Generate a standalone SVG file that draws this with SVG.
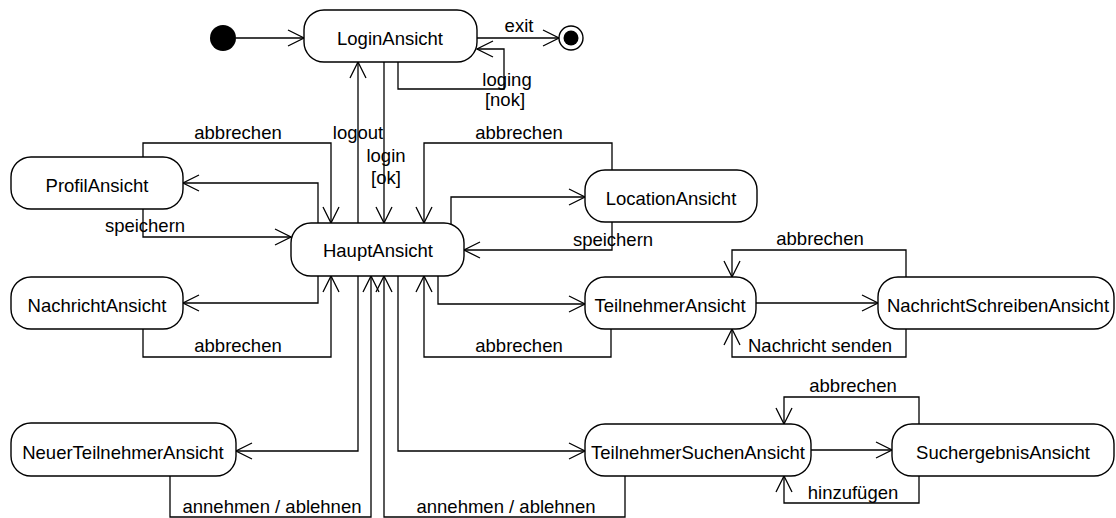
<svg xmlns="http://www.w3.org/2000/svg" width="1116" height="518" viewBox="0 0 1116 518">
<style>
.n{fill:#fff;stroke:#000;stroke-width:1.4}
.t{font-family:"Liberation Sans",Arial,sans-serif;font-size:18.5px;fill:#000;text-anchor:middle}
.c{fill:none;stroke:#000;stroke-width:1.3;marker-end:url(#a)}
</style>
<defs>
<marker id="a" viewBox="0 0 18 18" refX="17" refY="9" markerWidth="18" markerHeight="18" markerUnits="userSpaceOnUse" orient="auto">
<path d="M1,1 L17,9 L1,17" fill="none" stroke="#000" stroke-width="1.3"/>
</marker>
</defs>
<rect width="1116" height="518" fill="#fff"/>
<g id="connectors">
<path class="c" d="M236,38 H304"/>
<path class="c" d="M477,38 H559"/>
<path class="c" d="M398,62 V89 H504 V49 H477"/>
<path class="c" d="M358,223 V62"/>
<path class="c" d="M384,62 V223"/>
<path class="c" d="M143,157 V143 H331 V223"/>
<path class="c" d="M318,223 V183 H183"/>
<path class="c" d="M143,209 V237 H291"/>
<path class="c" d="M612,170 V143 H424 V223"/>
<path class="c" d="M451,225 V197 H585"/>
<path class="c" d="M612,222 V250 H464"/>
<path class="c" d="M318,276 V303 H183"/>
<path class="c" d="M143,329 V357 H331 V276"/>
<path class="c" d="M438,276 V304 H585"/>
<path class="c" d="M611,329 V357 H424 V276"/>
<path class="c" d="M756,303 H878"/>
<path class="c" d="M906,277 V250 H732 V277"/>
<path class="c" d="M906,329 V357 H732 V329"/>
<path class="c" d="M358,276 V451 H236"/>
<path class="c" d="M170,476 V517 H371 V276"/>
<path class="c" d="M398,276 V451 H585"/>
<path class="c" d="M625,476 V517 H384 V276"/>
<path class="c" d="M811,450 H892"/>
<path class="c" d="M919,424 V397 H784 V424"/>
<path class="c" d="M919,476 V503 H784 V476"/>
<g class="t">
<text x="519" y="32">exit</text>
<text x="507" y="86">loging</text>
<text x="505" y="106">[nok]</text>
<text x="358" y="139">logout</text>
<text x="386" y="162">login</text>
<text x="386" y="184">[ok]</text>
<text x="238" y="139">abbrechen</text>
<text x="145" y="232">speichern</text>
<text x="519" y="139">abbrechen</text>
<text x="613" y="246">speichern</text>
<text x="238" y="352">abbrechen</text>
<text x="519" y="352">abbrechen</text>
<text x="820" y="245">abbrechen</text>
<text x="820" y="352">Nachricht senden</text>
<text x="272" y="513">annehmen / ablehnen</text>
<text x="506" y="513">annehmen / ablehnen</text>
<text x="853" y="392">abbrechen</text>
<text x="853" y="499">hinzufügen</text>
</g>
</g>
<g id="initial"><circle cx="223" cy="38" r="13" fill="#000"/></g>
<g id="final"><circle cx="571" cy="38" r="12" fill="#fff" stroke="#000" stroke-width="1.4"/><circle cx="571" cy="38" r="7.5" fill="#000"/></g>
<g id="LoginAnsicht"><rect class="n" x="304" y="10" width="173" height="52" rx="20"/><text class="t" x="390" y="45">LoginAnsicht</text></g>
<g id="HauptAnsicht"><rect class="n" x="291" y="223" width="173" height="53" rx="20"/><text class="t" x="378" y="257">HauptAnsicht</text></g>
<g id="ProfilAnsicht"><rect class="n" x="11" y="157" width="172" height="52" rx="20"/><text class="t" x="97" y="192">ProfilAnsicht</text></g>
<g id="LocationAnsicht"><rect class="n" x="585" y="170" width="172" height="52" rx="20"/><text class="t" x="671" y="205">LocationAnsicht</text></g>
<g id="NachrichtAnsicht"><rect class="n" x="11" y="277" width="172" height="52" rx="20"/><text class="t" x="97" y="312">NachrichtAnsicht</text></g>
<g id="TeilnehmerAnsicht"><rect class="n" x="585" y="277" width="171" height="52" rx="20"/><text class="t" x="670" y="312">TeilnehmerAnsicht</text></g>
<g id="NachrichtSchreibenAnsicht"><rect class="n" x="878" y="277" width="236" height="52" rx="20"/><text class="t" x="998" y="312">NachrichtSchreibenAnsicht</text></g>
<g id="NeuerTeilnehmerAnsicht"><rect class="n" x="11" y="423" width="225" height="53" rx="20"/><text class="t" x="123" y="459">NeuerTeilnehmerAnsicht</text></g>
<g id="TeilnehmerSuchenAnsicht"><rect class="n" x="585" y="424" width="226" height="52" rx="20"/><text class="t" x="698" y="459">TeilnehmerSuchenAnsicht</text></g>
<g id="SuchergebnisAnsicht"><rect class="n" x="892" y="424" width="222" height="52" rx="20"/><text class="t" x="1003" y="459">SuchergebnisAnsicht</text></g>
</svg>
